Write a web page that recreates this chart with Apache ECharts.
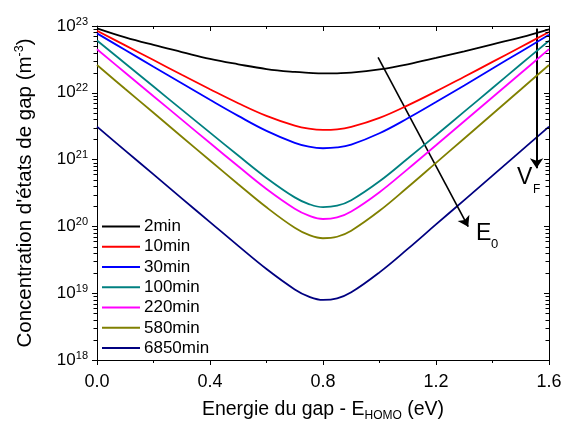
<!DOCTYPE html>
<html>
<head>
<meta charset="utf-8">
<script src="https://cdn.jsdelivr.net/npm/echarts@6/dist/echarts.min.js"></script>
<style>
html,body{margin:0;padding:0;background:#fff;}
#chart{width:565px;height:421px;}
</style>
</head>
<body>
<div id="chart"></div>
<script>
// ---- data ----
const energy = [0, 0.1, 0.2, 0.3, 0.4, 0.5, 0.6, 0.7, 0.75, 0.8, 0.85, 0.9, 1.0, 1.1, 1.2, 1.3, 1.4, 1.5, 1.6];
const seriesNames = ['2min', '10min', '30min', '100min', '220min', '580min', '6850min'];
const min2 = [9.23e22, 6.76e22, 5.20e22, 4.08e22, 3.21e22, 2.67e22, 2.27e22, 2.05e22, 1.99e22, 1.95e22, 1.96e22, 2.00e22, 2.24e22, 2.67e22, 3.32e22, 4.18e22, 5.32e22, 6.76e22, 8.91e22];
const min10 = [8.51e22, 5.13e22, 3.09e22, 1.86e22, 1.13e22, 6.98e21, 4.51e21, 3.22e21, 2.90e21, 2.78e21, 2.83e21, 3.08e21, 4.21e21, 6.49e21, 1.05e22, 1.74e22, 2.90e22, 4.85e22, 8.13e22];
const min30 = [7.76e22, 4.37e22, 2.46e22, 1.39e22, 7.85e21, 4.51e21, 2.69e21, 1.78e21, 1.56e21, 1.48e21, 1.52e21, 1.68e21, 2.48e21, 4.15e21, 7.26e21, 1.29e22, 2.31e22, 4.13e22, 7.41e22];
const min100 = [6.08e22, 2.75e22, 1.24e22, 5.60e21, 2.53e21, 1.15e21, 5.32e20, 2.72e20, 2.16e20, 1.94e20, 2.04e20, 2.47e20, 4.74e20, 1.04e21, 2.32e21, 5.22e21, 1.18e22, 2.67e22, 6.01e22];
const min220 = [4.48e22, 2.00e22, 8.89e21, 3.97e21, 1.77e21, 7.94e20, 3.63e20, 1.84e20, 1.45e20, 1.29e20, 1.36e20, 1.67e20, 3.25e20, 7.21e20, 1.64e21, 3.75e21, 8.57e21, 1.96e22, 4.50e22];
const min580 = [2.61e22, 1.14e22, 5.02e21, 2.20e21, 9.68e20, 4.28e20, 1.93e20, 9.53e19, 7.45e19, 6.65e19, 7.00e19, 8.63e19, 1.71e20, 3.85e20, 8.93e20, 2.07e21, 4.82e21, 1.12e22, 2.61e22];
const min6850 = [3.11e21, 1.36e21, 6.00e20, 2.63e20, 1.16e20, 5.11e19, 2.30e19, 1.14e19, 8.89e18, 7.93e18, 8.36e18, 1.03e19, 2.05e19, 4.60e19, 1.07e20, 2.47e20, 5.75e20, 1.34e21, 3.11e21];
const xTicks = [0, 0.4, 0.8, 1.2, 1.6];
const yDecadeExponents = [18, 19, 20, 21, 22, 23];
// annotation arrows (data coordinates)
const e0Arrow = [[0.995, 3.4e22], [1.314, 9.9e19]];
const vfArrow = [[1.556, 9.2e22], [1.556, 7.4e20]];

// ---- styles ----
const colors = ['#000000', '#ff0000', '#0000ff', '#008080', '#ff00ff', '#808000', '#000080'];
const allValues = [min2, min10, min30, min100, min220, min580, min6850];
const FONT = '"Liberation Sans", Arial, sans-serif';

const yMin = parseFloat('1e' + yDecadeExponents[0]);
const yMax = parseFloat('1e' + yDecadeExponents[yDecadeExponents.length - 1]);
const xMin = xTicks[0], xMax = xTicks[xTicks.length - 1];
// minor log ticks (2..9 x each decade)
const minorLog = [];
for (let i = 0; i < yDecadeExponents.length - 1; i++) {
  for (let m = 2; m <= 9; m++) minorLog.push(m * parseFloat('1e' + yDecadeExponents[i]));
}

const chart = echarts.init(document.getElementById('chart'), null, {renderer: 'canvas'});

const series = seriesNames.map((n, i) => ({
  name: n,
  type: 'line',
  data: energy.map((e, j) => [e, allValues[i][j]]),
  symbol: 'none',
  smooth: 0.4,
  lineStyle: {color: colors[i], width: 1.8},
  itemStyle: {color: colors[i]},
  z: 10 - i,
  animation: false
}));

series[0].markLine = {
  silent: true,
  animation: false,
  symbol: ['none', 'arrow'],
  symbolSize: 10,
  label: {show: false},
  lineStyle: {color: '#000', width: 1.6, type: 'solid'},
  data: [
    [{coord: e0Arrow[0]}, {coord: e0Arrow[1]}],
    [{coord: vfArrow[0]}, {coord: vfArrow[1], lineStyle: {width: 2}}]
  ]
};

// minor log ticks on left (outward) and right (inward) frame edges
series.push({
  type: 'custom',
  name: 'minorTicks',
  silent: true,
  clip: false,
  animation: false,
  z: 20,
  data: minorLog.map(v => [xMin, v]),
  renderItem: (params, api) => {
    const v = api.value(1);
    const l = api.coord([xMin, v]);
    const r = api.coord([xMax, v]);
    const y = Math.round(l[1]) + 0.5;
    return {
      type: 'group',
      children: [
        {type: 'line', shape: {x1: l[0] - 3.5, y1: y, x2: l[0], y2: y}, style: {stroke: '#000', lineWidth: 1}},
        {type: 'line', shape: {x1: r[0] - 3.5, y1: y, x2: r[0], y2: y}, style: {stroke: '#000', lineWidth: 1}}
      ]
    };
  }
});

const option = {
  animation: false,
  backgroundColor: '#fff',
  grid: {left: 97, right: 16, top: 26, bottom: 61, containLabel: false, outerBoundsMode: 'none'},
  legend: {
    orient: 'vertical', left: 101, top: 218, padding: 0,
    itemWidth: 38, itemHeight: 17, itemGap: 3.27,
    itemStyle: {opacity: 0, borderWidth: 0},
    textStyle: {fontFamily: FONT, fontSize: 17, color: '#000', padding: [0, 0, 0, -1]},
    data: seriesNames
  },
  xAxis: [
    {
      type: 'value', min: xMin, max: xMax, interval: 0.4, position: 'bottom',
      axisLine: {show: true, onZero: false, lineStyle: {color: '#000', width: 1}},
      axisTick: {show: true, inside: false, length: 5, lineStyle: {color: '#000'}},
      minorTick: {show: true, splitNumber: 2, length: 3, lineStyle: {color: '#000'}},
      splitLine: {show: false},
      axisLabel: {
        fontFamily: FONT, fontSize: 18, color: '#000', margin: 13,
        customValues: xTicks,
        formatter: v => v.toFixed(1)
      },
      name: '{a|Energie du gap - E}{s|HOMO}{a| (eV)}',
      nameLocation: 'middle', nameGap: 38,
      nameTextStyle: {
        rich: {
          a: {fontFamily: FONT, fontSize: 19.5, color: '#000', lineHeight: 24},
          s: {fontFamily: FONT, fontSize: 12, color: '#000', lineHeight: 12, verticalAlign: 'bottom'}
        }
      }
    },
    {
      type: 'value', min: xMin, max: xMax, interval: 0.4, position: 'top',
      axisLine: {show: true, onZero: false, lineStyle: {color: '#000', width: 1}},
      axisTick: {show: true, inside: true, length: 5, lineStyle: {color: '#000'}},
      minorTick: {show: true, splitNumber: 2, length: 3, lineStyle: {color: '#000'}},
      splitLine: {show: false},
      axisLabel: {show: false}
    }
  ],
  yAxis: [
    {
      type: 'log', logBase: 10, min: yMin, max: yMax, interval: 1,
      position: 'left',
      splitLine: {show: false},
      axisLine: {show: true, onZero: false, lineStyle: {color: '#000', width: 1}},
      axisTick: {show: true, inside: false, length: 5, lineStyle: {color: '#000'}},
      axisLabel: {
        margin: 9, showMaxLabel: true, showMinLabel: true, hideOverlap: false,
        formatter: v => '{b|10}{s|' + Math.round(Math.log10(v)) + '}',
        rich: {
          b: {fontFamily: FONT, fontSize: 17, color: '#000', lineHeight: 20},
          s: {fontFamily: FONT, fontSize: 11, color: '#000', lineHeight: 10, verticalAlign: 'top'}
        }
      },
      name: '{a|Concentration d\'états de gap (m}{s|-3}{a|)}',
      nameLocation: 'middle', nameGap: 60, nameRotate: 90,
      nameTextStyle: {
        rich: {
          a: {fontFamily: FONT, fontSize: 20.5, color: '#000', lineHeight: 24},
          s: {fontFamily: FONT, fontSize: 12.5, color: '#000', lineHeight: 12, verticalAlign: 'top'}
        }
      }
    },
    {
      type: 'log', logBase: 10, min: yMin, max: yMax, interval: 1,
      position: 'right',
      splitLine: {show: false},
      axisLine: {show: true, onZero: false, lineStyle: {color: '#000', width: 1}},
      axisTick: {show: true, inside: true, length: 5, lineStyle: {color: '#000'}},
      axisLabel: {show: false}
    }
  ],
  graphic: [
    {type: 'text', left: 476, top: 222, style: {text: 'E', fontFamily: FONT, fontSize: 23, fill: '#000'}},
    {type: 'text', left: 491, top: 238, style: {text: '0', fontFamily: FONT, fontSize: 13, fill: '#000'}},
    {type: 'text', left: 517, top: 166, style: {text: 'V', fontFamily: FONT, fontSize: 23, fill: '#000'}},
    {type: 'text', left: 533, top: 184, style: {text: 'F', fontFamily: FONT, fontSize: 12, fill: '#000'}}
  ],
  series: series
};
chart.setOption(option);
</script>
</body>
</html>
